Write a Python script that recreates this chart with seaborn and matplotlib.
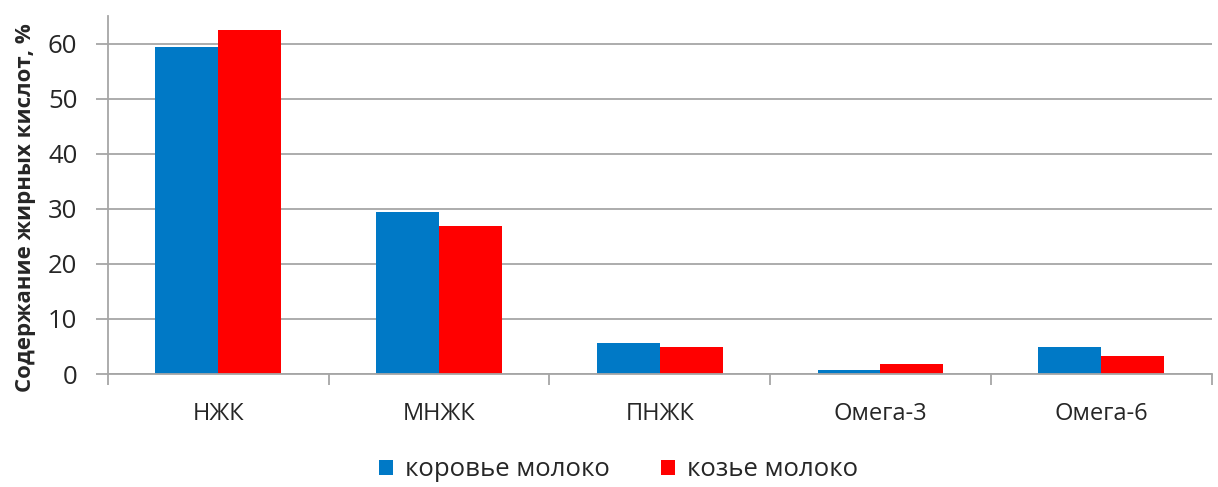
import pandas as pd
import matplotlib
matplotlib.use("Agg")
import matplotlib.pyplot as plt
import seaborn as sns

# Data
categories = ["НЖК", "МНЖК", "ПНЖК", "Омега-3", "Омега-6"]
cow_milk = [59.3, 29.4, 5.6, 0.7, 4.9]
goat_milk = [62.5, 26.9, 4.9, 1.8, 3.2]
series_names = ["коровье молоко", "козье молоко"]
y_ticks = [0, 10, 20, 30, 40, 50, 60]

df = pd.DataFrame({
    "category": categories * 2,
    "value": cow_milk + goat_milk,
    "series": [series_names[0]] * len(categories) + [series_names[1]] * len(categories),
})

sns.set_theme(style="white")
plt.rcParams["font.family"] = ["Open Sans", "DejaVu Sans"]

fig = plt.figure(figsize=(12.18, 4.87), dpi=100)
ax = fig.add_axes([0.0887, 0.232, 0.906, 0.735])

palette = {series_names[0]: "#0079C6", series_names[1]: "#FF0000"}
sns.barplot(data=df, x="category", y="value", hue="series", palette=palette,
            width=0.57, saturation=1, ax=ax, legend=True, linewidth=0, edgecolor="none")

ax.set_ylim(0, 65)
ax.set_yticks(y_ticks)
ax.set_xlim(-0.5, len(categories) - 0.5)
ax.yaxis.grid(True, color="#A6A6A6", linewidth=1.3)
ax.set_axisbelow(True)
for s in ["top", "right"]:
    ax.spines[s].set_visible(False)
for s in ["left", "bottom"]:
    ax.spines[s].set_color("#A6A6A6")
    ax.spines[s].set_linewidth(1.3)

# category separator ticks on the x axis
ax.set_xticks(range(len(categories)))
ax.set_xticklabels(categories, fontsize=17, color="#262626")
ax.set_xticks([i - 0.5 for i in range(len(categories) + 1)], minor=True)
ax.tick_params(axis="x", which="major", length=0, pad=20)
ax.tick_params(axis="x", which="minor", length=8, width=1.3, color="#A6A6A6", direction="out")
ax.tick_params(axis="y", length=9, width=1.3, color="#A6A6A6", labelsize=18.5, labelcolor="#262626",
               direction="out", pad=13)
ax.tick_params(bottom=True, left=True, which="both")

ax.set_xlabel("")
ax.set_ylabel("Содержание жирных кислот, %", fontsize=16, fontweight="bold", color="#262626")
ax.yaxis.set_label_coords(-0.065, 0.464)

ax.get_legend().remove()
handles, labels = ax.get_legend_handles_labels()
fig.legend(handles, labels, loc="center", bbox_to_anchor=(0.508, 0.035), ncol=2, frameon=False,
           fontsize=18.5, handlelength=0.55, handleheight=0.55, handletextpad=0.45, columnspacing=2.0,
           labelcolor="#262626")

fig.savefig("out.png", dpi=100)
